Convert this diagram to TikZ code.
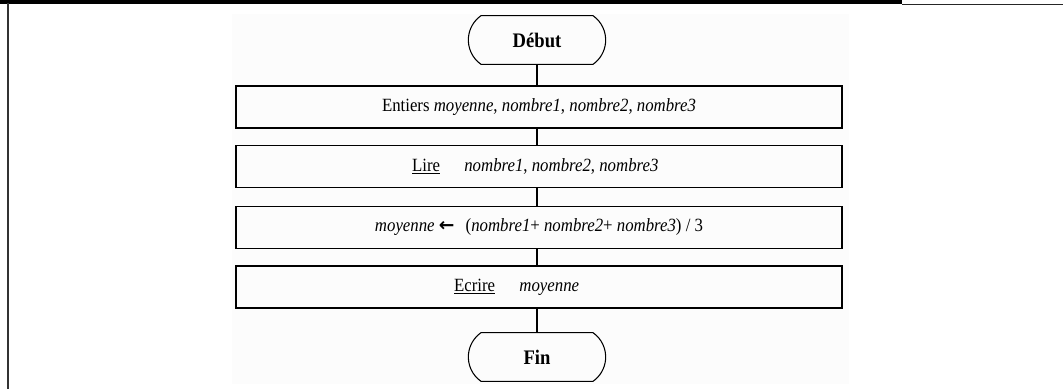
\documentclass[tikz,border=0pt]{standalone}
\usepackage{fontspec}
\setmainfont{Liberation Serif}[FakeStretch=0.9]
\newfontfamily\symfont{DejaVu Sans}
\usetikzlibrary{shapes.misc}
\begin{document}
\begin{tikzpicture}[x=0.75pt,y=-0.75pt,
  stepbox/.style={draw, line width=0.8pt, minimum width=454.5pt, minimum height=31.5pt,
    inner sep=0pt, font=\fontsize{14}{16}\selectfont},
  terminal/.style={draw, line width=0.8pt, rounded rectangle, rounded rectangle arc length=110,
    minimum width=103pt, minimum height=36.5pt, inner sep=0pt,
    font=\fontsize{15.5}{18}\selectfont\bfseries},
  link/.style={line width=0.8pt}]
\useasboundingbox (0,0) rectangle (1063,389);
\fill[white] (0,0) rectangle (1063,389);
% panel behind the flowchart
\fill[black!1] (232,14) rectangle (849,384);
% frame of the page
\draw[line width=3.5pt] (0,2) -- (902,2);
\draw[line width=0.9pt, black!85] (902,4.5) -- (1063,4.5);
\draw[line width=1.5pt, black!80] (8,3) -- (8,389);
% flowchart
\node[terminal] (debut) at (537,40) {Début};
\node[stepbox] (decl) at (539,107)
  {Entiers \textit{moyenne}, \textit{nombre1}, \textit{nombre2}, \textit{nombre3}};
\node[stepbox] (lire) at (539,166.5)
  {\underline{Lire}\hspace{1.3em}\textit{nombre1}, \textit{nombre2}, \textit{nombre3}\hspace*{0.4em}};
\node[stepbox] (calc) at (539,227.5)
  {\textit{moyenne} {\symfont\bfseries ←}\hspace{0.6em}(\textit{nombre1}+ \textit{nombre2}+ \textit{nombre3}) / 3};
\node[stepbox] (ecrire) at (539,287)
  {\underline{Ecrire}\hspace{1.3em}\textit{moyenne}\hspace*{2.4em}};
\node[terminal] (fin) at (537,357) {Fin};
\draw[link] (debut.south) -- (debut.south |- decl.north);
\draw[link] (debut.south |- decl.south) -- (debut.south |- lire.north);
\draw[link] (debut.south |- lire.south) -- (debut.south |- calc.north);
\draw[link] (debut.south |- calc.south) -- (debut.south |- ecrire.north);
\draw[link] (debut.south |- ecrire.south) -- (fin.north);
\end{tikzpicture}
\end{document}
